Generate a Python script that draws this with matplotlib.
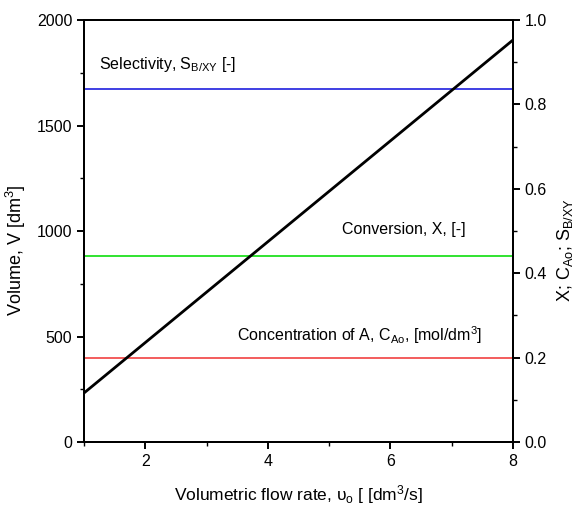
import matplotlib
matplotlib.use("Agg")
import matplotlib.pyplot as plt
from matplotlib.ticker import MultipleLocator

plt.rcParams['font.family'] = ['Liberation Sans', 'DejaVu Sans']
plt.rcParams['mathtext.fontset'] = 'custom'
plt.rcParams['mathtext.rm'] = 'Liberation Sans'
plt.rcParams['mathtext.it'] = 'Liberation Sans'

flow_rate = [1, 2, 3, 4, 5, 6, 7, 8]
volume = [232, 471, 710, 949, 1188, 1427, 1666, 1905]
selectivity = 0.837
conversion = 0.44
concentration = 0.2

fig = plt.figure(figsize=(5.75, 5.2), dpi=100)
ax = fig.add_axes([0.146, 0.15, 0.746, 0.8115])
ax2 = ax.twinx()

ax2.axhline(selectivity, color='#3030e0', lw=1.3)
ax2.axhline(conversion, color='#20e020', lw=1.3)
ax2.axhline(concentration, color='#f03030', lw=1.1)
ax.plot(flow_rate, volume, color='black', lw=2.0, zorder=5)
ax.set_zorder(ax2.get_zorder() + 1)
ax.patch.set_visible(False)

ax.set_xlim(1, 8)
ax.set_ylim(0, 2000)
ax2.set_ylim(0, 1.0)
ax.xaxis.set_major_locator(MultipleLocator(2))
ax.xaxis.set_minor_locator(MultipleLocator(1))
ax.yaxis.set_major_locator(MultipleLocator(500))
ax.yaxis.set_minor_locator(MultipleLocator(250))
ax2.yaxis.set_major_locator(MultipleLocator(0.2))
ax2.yaxis.set_minor_locator(MultipleLocator(0.1))
ax2.yaxis.set_major_formatter(matplotlib.ticker.FormatStrFormatter('%.1f'))

fs = 11.5
lfs = 13
for a in (ax, ax2):
    for s in a.spines.values():
        s.set_linewidth(1.4)
    a.tick_params(which='major', length=5, width=1.4, labelsize=fs)
    a.tick_params(which='minor', length=3, width=1.0)

ax.set_ylabel('Volume, V [dm$^3$]', fontsize=lfs)
ax.yaxis.set_label_coords(-0.13, 0.455)
ax2.set_ylabel('X; C$_{Ao}$; S$_{B/XY}$', fontsize=lfs)
ax2.yaxis.set_label_coords(1.098, 0.455)
ax.set_xlabel('Volumetric flow rate, $\\upsilon_o$ [ [dm$^3$/s]', fontsize=12.5, labelpad=10)

ax.text(1.25, 1787, 'Selectivity, S$_{B/XY}$ [-]', fontsize=fs, va='center', ha='left')
ax.text(7.23, 1005, 'Conversion, X, [-]', fontsize=fs, va='center', ha='right')
ax.text(3.49, 507, 'Concentration of A, C$_{Ao}$, [mol/dm$^3$]', fontsize=fs, va='center', ha='left')

fig.savefig('out.png', dpi=100)
